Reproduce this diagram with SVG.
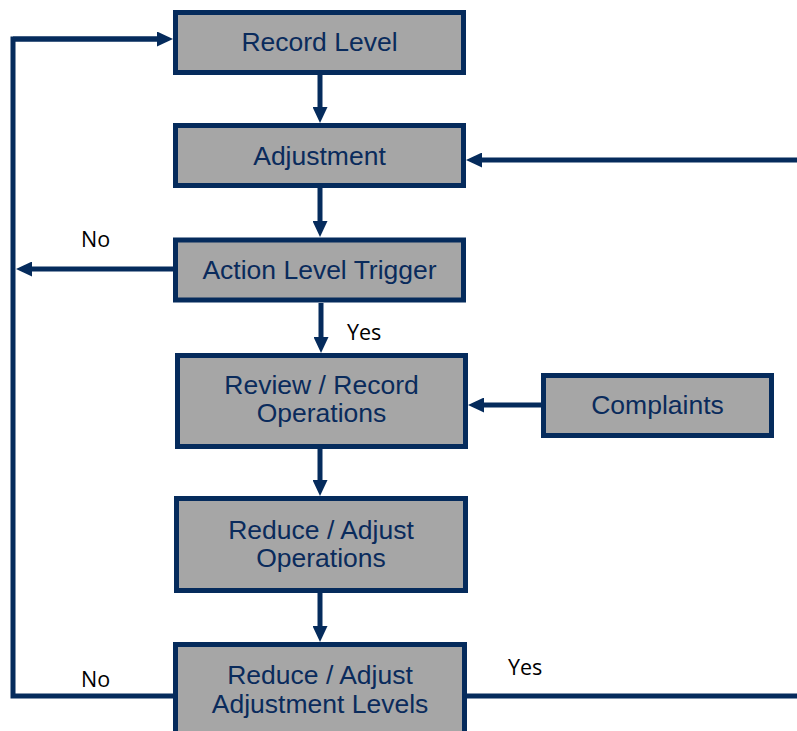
<svg xmlns="http://www.w3.org/2000/svg" width="797" height="731" viewBox="0 0 797 731">
<style>
.box{fill:#a6a6a6;stroke:#052b5c;stroke-width:5}
.t{font-family:"Liberation Sans",Arial,sans-serif;font-size:26.5px;fill:#0a2b5c;text-anchor:middle}
.lbl{font-family:"Open Sans","Liberation Sans",sans-serif;font-size:21.5px;fill:#000}
.c{fill:none;stroke:#052b5c;stroke-width:5}
</style>
<defs>
<marker id="ah" viewBox="0 0 16 15" refX="6" refY="7.5" markerWidth="16" markerHeight="15" markerUnits="userSpaceOnUse" orient="auto">
<path d="M0 0 L16 7.5 L0 15 Z" fill="#052b5c"/>
</marker>
</defs>
<rect width="797" height="731" fill="#fff"/>
<g id="connectors">
<path class="c" d="M175 696 H13 V39 H162" />
<path class="c" d="M13 39 H163" marker-end="url(#ah)"/>
<path class="c" d="M320 75 V113" marker-end="url(#ah)"/>
<path class="c" d="M320 188 V227" marker-end="url(#ah)"/>
<path class="c" d="M797 160 H476" marker-end="url(#ah)"/>
<path class="c" d="M173 269 H26" marker-end="url(#ah)"/>
<path class="c" d="M321 303 V343" marker-end="url(#ah)"/>
<path class="c" d="M320 449 V486" marker-end="url(#ah)"/>
<path class="c" d="M320 593 V632" marker-end="url(#ah)"/>
<path class="c" d="M541 405 H478" marker-end="url(#ah)"/>
<path class="c" d="M466 696 H797"/>
<text class="lbl" x="81" y="247">No</text>
<text class="lbl" x="347" y="340">Yes</text>
<text class="lbl" x="81" y="687">No</text>
<text class="lbl" x="508" y="675">Yes</text>
</g>
<g id="record-level">
<rect class="box" x="175.5" y="12.5" width="288" height="60"/>
<text class="t" x="319.5" y="51">Record Level</text>
</g>
<g id="adjustment">
<rect class="box" x="175.5" y="125.5" width="288" height="60"/>
<text class="t" x="319.5" y="165">Adjustment</text>
</g>
<g id="action-level-trigger">
<rect class="box" x="175.5" y="240" width="288" height="60"/>
<text class="t" x="319.5" y="279">Action Level Trigger</text>
</g>
<g id="review-record">
<rect class="box" x="177.5" y="355.5" width="288" height="91"/>
<text class="t" x="321.5" y="394">Review / Record</text>
<text class="t" x="321.5" y="422">Operations</text>
</g>
<g id="reduce-ops">
<rect class="box" x="176.5" y="498.5" width="289" height="92"/>
<text class="t" x="321" y="539">Reduce / Adjust</text>
<text class="t" x="321" y="567">Operations</text>
</g>
<g id="reduce-levels">
<rect class="box" x="175.5" y="644.5" width="289" height="100"/>
<text class="t" x="320" y="684">Reduce / Adjust</text>
<text class="t" x="320" y="713">Adjustment Levels</text>
</g>
<g id="complaints">
<rect class="box" x="543.5" y="375.5" width="228" height="60"/>
<text class="t" x="657.5" y="414">Complaints</text>
</g>
</svg>
